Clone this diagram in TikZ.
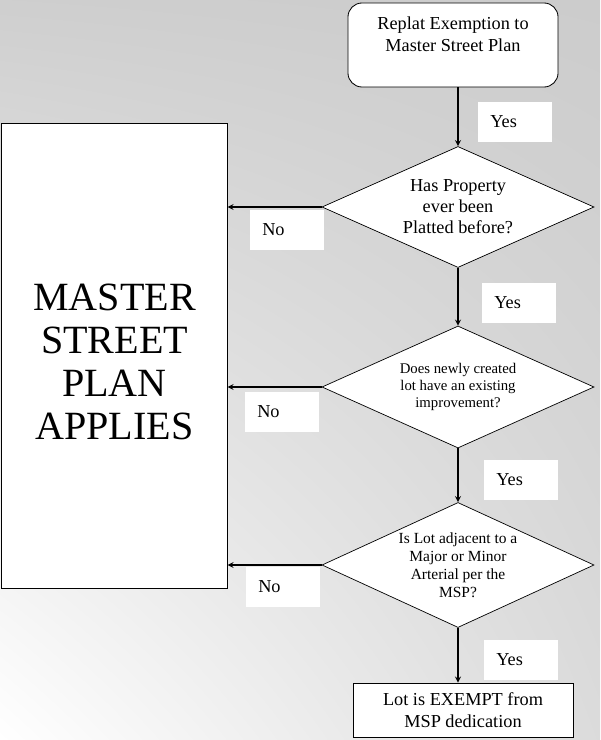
\documentclass[tikz,border=0pt]{standalone}
\usepackage{fontspec}
\setmainfont{Liberation Serif}
\usetikzlibrary{shapes.geometric,shadings}

\begin{document}
\begin{tikzpicture}[
                x=0.025cm,
                y=-0.025cm,
                >=stealth,
                box/.style={draw,fill=white,align=center,line width=0.6pt,inner sep=0pt},
                decision/.style={draw,diamond,fill=white,align=center,aspect=2.25,
                                 inner sep=-2pt,line width=0.5pt,minimum width=6.8cm},
                answer/.style={fill=white,text width=1.25cm,align=left,inner xsep=0.3cm,
                               minimum height=1cm,anchor=west,font=\fontsize{13}{15}\selectfont},
                flow/.style={->,line width=0.9pt}]

% scanned paper
\shade[lower left=white,upper left=gray!38,upper right=gray!40,lower right=gray!28]
  (0,0) rectangle (600,740);

                    % answers
                    \node[answer] (Yes1) at (478,122) {Yes};
                    \node[answer] (No1)  at (250,230) {No};
                    \node[answer] (Yes2) at (482,303) {Yes};
                    \node[answer] (No2)  at (245,412) {No};
                    \node[answer] (Yes3) at (484,480) {Yes};
                    \node[answer] (No3)  at (246,587) {No};
                    \node[answer] (Yes4) at (484,660) {Yes};

                    % start
                    \node[box,rounded corners=10pt,minimum width=5.25cm,minimum height=2.1cm,
                          font=\fontsize{13}{15.6}\selectfont] (Start) at (453,45)
                          {Replat Exemption to\\Master Street Plan\\ ~};

                    % questions
                    \node[decision,minimum height=3.025cm,font=\fontsize{13}{15}\selectfont]
                          (Question1) at (458,207) {Has Property\\ever been\\Platted before?}; % 1
                    \node[decision,minimum height=3.05cm,font=\fontsize{10.5}{12.4}\selectfont]
                          (Question2) at (458,387) {Does newly created\\lot have an existing\\improvement?}; % 2
                    \node[decision,minimum height=3.125cm,font=\fontsize{11}{12.8}\selectfont]
                          (Question3) at (458,565) {Is Lot adjacent to a\\Major or Minor\\Arterial per the\\MSP?}; % 3

                    % outcomes
                    \node[box,line width=0.7pt,minimum width=5.625cm,minimum height=11.6cm,
                          font=\fontsize{28.5}{30.7}\selectfont] (Applies) at (114.5,356)
                          {\rule{0pt}{27pt}MASTER\\STREET\\PLAN\\APPLIES};
                    \node[box,minimum width=5.5cm,minimum height=1.35cm,
                          font=\fontsize{13}{15.5}\selectfont] (Exempt) at (463,710)
                          {Lot is EXEMPT from\\MSP dedication};

                    % yes
                    \draw[flow] (Start.south -| Question1.north) to (Question1.north);
                    \draw[flow] (Question1.south) to (Question2.north);
                    \draw[flow] (Question2.south) to (Question3.north);
                    \draw[flow] (Question3.south) to (Question3.south |- Exempt.north);

                    % no
                    \draw[flow] (Question1.west) to (Question1.west -| Applies.east);
                    \draw[flow] (Question2.west) to (Question2.west -| Applies.east);
                    \draw[flow] (Question3.west) to (Question3.west -| Applies.east);

\end{tikzpicture}
\end{document}
